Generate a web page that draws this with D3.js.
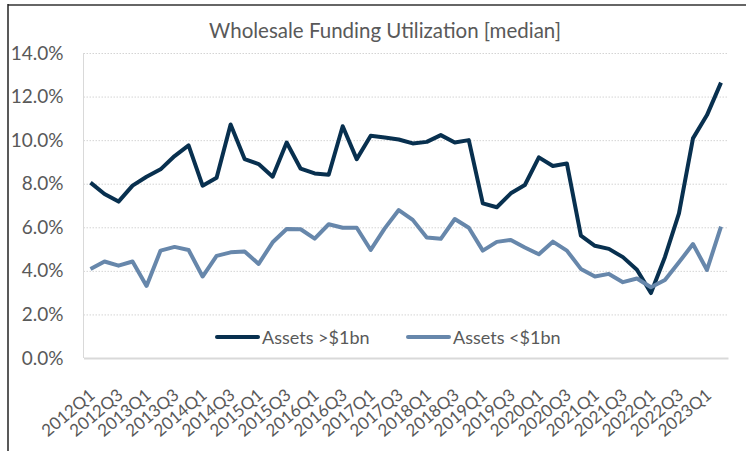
<!DOCTYPE html>
<html>
<head>
<meta charset="utf-8">
<script src="https://cdn.jsdelivr.net/npm/d3@7"></script>
<style>
  body { margin: 0; background: #fff; }
  svg { display: block; font-family: Lato, "Open Sans", sans-serif; }
</style>
</head>
<body>
<div id="chart"></div>
<script>
// data
const quarters = [
  "2012Q1","2012Q2","2012Q3","2012Q4","2013Q1","2013Q2","2013Q3","2013Q4",
  "2014Q1","2014Q2","2014Q3","2014Q4","2015Q1","2015Q2","2015Q3","2015Q4",
  "2016Q1","2016Q2","2016Q3","2016Q4","2017Q1","2017Q2","2017Q3","2017Q4",
  "2018Q1","2018Q2","2018Q3","2018Q4","2019Q1","2019Q2","2019Q3","2019Q4",
  "2020Q1","2020Q2","2020Q3","2020Q4","2021Q1","2021Q2","2021Q3","2021Q4",
  "2022Q1","2022Q2","2022Q3","2022Q4","2023Q1","2023Q2"
];
const assetsOver1bn = [
  8.05,7.53,7.18,7.91,8.32,8.66,9.27,9.76,7.91,8.27,
  10.72,9.13,8.90,8.32,9.89,8.69,8.47,8.41,10.64,9.13,
  10.20,10.12,10.03,9.85,9.92,10.23,9.89,10.00,7.10,6.92,
  7.56,7.94,9.21,8.81,8.93,5.62,5.15,5.01,4.63,4.05,
  2.98,4.64,6.64,10.08,11.15,12.64
];
const assetsUnder1bn = [
  4.08,4.43,4.24,4.43,3.31,4.93,5.10,4.96,3.74,4.69,
  4.85,4.89,4.32,5.31,5.92,5.91,5.48,6.14,5.98,5.98,
  4.96,5.95,6.79,6.34,5.53,5.47,6.38,5.98,4.93,5.33,
  5.42,5.07,4.76,5.34,4.93,4.09,3.74,3.86,3.48,3.65,
  3.25,3.58,4.39,5.23,4.04,6.03
];
const yTicks = [0, 2, 4, 6, 8, 10, 12, 14];
const seriesNames = ["Assets >$1bn", "Assets <$1bn"];
const seriesColors = ["#08304f", "#6787ab"];

const width = 746;
const height = 451;
const textColor = "#595959";

let svg = d3.select("#chart").append("svg")
  .attr("width", width)
  .attr("height", height);

// frame lines (left and top)
svg.append("line").attr("x1", 8).attr("x2", width).attr("y1", 5).attr("y2", 5)
  .attr("stroke", "#666").attr("stroke-width", 2);
svg.append("line").attr("x1", 8).attr("x2", 8).attr("y1", 4).attr("y2", height)
  .attr("stroke", "#222").attr("stroke-width", 1.5);

// title
svg.append("text")
  .attr("x", 385).attr("y", 38)
  .attr("text-anchor", "middle")
  .attr("fill", textColor)
  .style("font-size", "20.5px")
  .text("Wholesale Funding Utilization [median]");

// plot area
let plot = { left: 83.5, right: 728, top: 53, bottom: 358 };

let xScale = d3.scalePoint()
  .domain(quarters)
  .range([plot.left, plot.right])
  .padding(0.5);

let yScale = d3.scaleLinear()
  .domain([0, 14])
  .range([plot.bottom, plot.top]);

// y gridlines + labels
let yAxis = d3.axisLeft(yScale)
  .tickValues(yTicks)
  .tickFormat(d => d.toFixed(1) + "%")
  .tickSize(-(plot.right - plot.left))
  .tickPadding(20);

let yAxisGroup = svg.append("g")
  .attr("transform", `translate(${plot.left},0)`)
  .call(yAxis);
yAxisGroup.select(".domain").remove();
yAxisGroup.selectAll(".tick line")
  .attr("stroke", "#d4d4d4")
  .attr("stroke-dasharray", "1.5,1.5")
  .attr("stroke-width", 1);
yAxisGroup.selectAll(".tick text")
  .attr("fill", textColor)
  .style("font-size", "19px")
  .style("font-family", "Lato, sans-serif");
yAxisGroup.selectAll(".tick").filter(d => d === 0).select("line").remove();

// left edge of plot area
svg.append("line")
  .attr("x1", plot.left).attr("x2", plot.left)
  .attr("y1", plot.top).attr("y2", plot.bottom)
  .attr("stroke", "#d9d9d9").attr("stroke-width", 1);

// x axis
let xAxis = d3.axisBottom(xScale)
  .tickValues(quarters.filter((q, i) => i % 2 === 0))
  .tickSize(0)
  .tickPadding(0);

let xAxisGroup = svg.append("g")
  .attr("transform", `translate(0,${plot.bottom})`)
  .call(xAxis);
xAxisGroup.select(".domain")
  .attr("stroke", "#d9d9d9")
  .attr("stroke-width", 2);
xAxisGroup.selectAll(".tick text")
  .attr("fill", textColor)
  .style("font-size", "17px")
  .style("font-family", "Lato, sans-serif")
  .attr("text-anchor", "end")
  .attr("dy", null)
  .attr("y", 0)
  .attr("transform", "translate(5,39) rotate(-40)");

// lines
let line = d3.line()
  .x((d, i) => xScale(quarters[i]))
  .y(d => yScale(d));

let allSeries = [assetsOver1bn, assetsUnder1bn];
svg.append("g").selectAll("path")
  .data(allSeries)
  .enter()
  .append("path")
  .attr("d", d => line(d))
  .attr("fill", "none")
  .attr("stroke", (d, i) => seriesColors[i])
  .attr("stroke-width", 4)
  .attr("stroke-linejoin", "round");

// legend
let legendPos = [217, 408];
let legend = svg.append("g").selectAll("g")
  .data(seriesNames)
  .enter()
  .append("g")
  .attr("transform", (d, i) => `translate(${legendPos[i]},337)`);
legend.append("line")
  .attr("x1", 0).attr("x2", 41)
  .attr("stroke", (d, i) => seriesColors[i])
  .attr("stroke-width", 4)
  .attr("stroke-linecap", "round");
legend.append("text")
  .attr("x", 45).attr("y", 6.5)
  .attr("fill", textColor)
  .style("font-size", "18px")
  .text(d => d);
</script>
</body>
</html>
